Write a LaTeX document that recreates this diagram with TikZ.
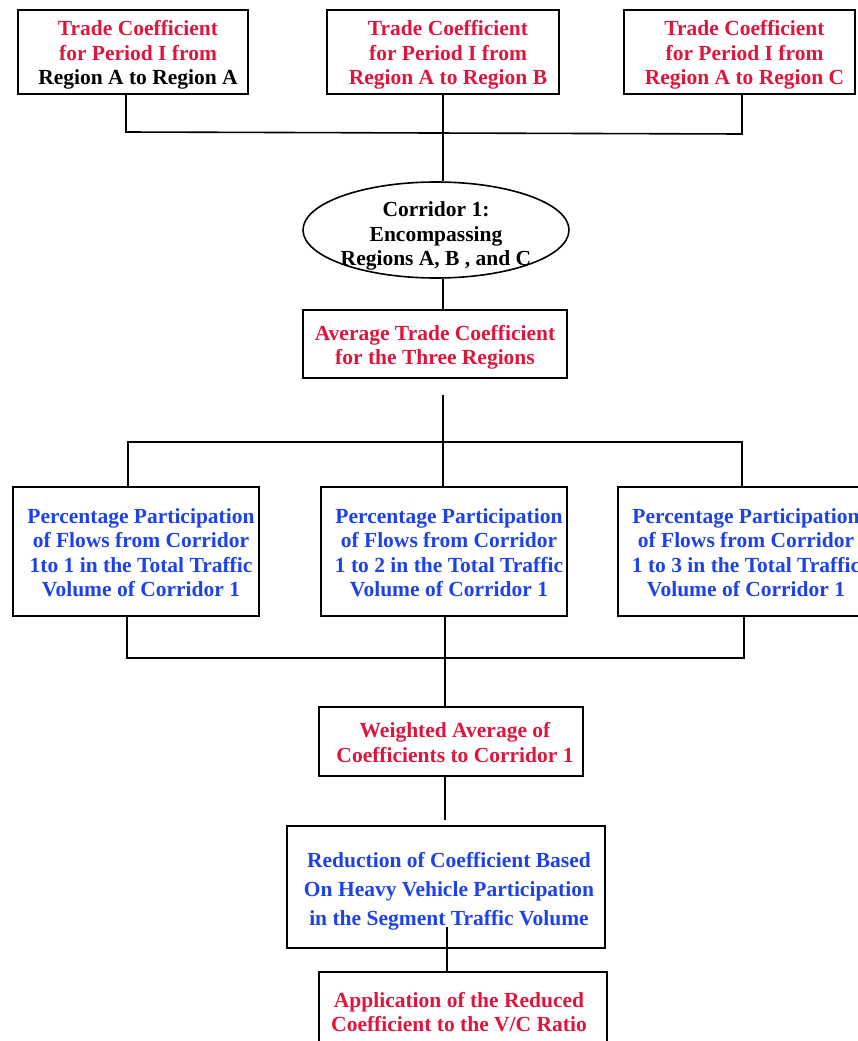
\documentclass[tikz,border=0pt]{standalone}
\usepackage{fontspec}
\setmainfont{Liberation Serif}
\usetikzlibrary{shapes.geometric,calc}
\definecolor{cred}{RGB}{222,22,62}
\definecolor{cblue}{RGB}{28,66,232}
\newcommand{\boxtext}[2]{\raisebox{-3.5pt}[\height][\depth]{\begin{tabular}{@{\hspace{#1pt}}c@{}}#2\end{tabular}}}
\begin{document}
\begin{tikzpicture}[x=1pt,y=-1pt,
  box/.style={draw, line width=1.6pt, rectangle, inner sep=0pt, align=center,
    font=\fontsize{21.5}{24.5}\selectfont\bfseries},
  tall/.style={font=\fontsize{21.5}{29}\selectfont\bfseries},
  link/.style={line width=1.6pt}]
\useasboundingbox (0,0) rectangle (857,1041);
% top row
\node[box, minimum width=230, minimum height=84, text=cred] (b1) at (133,52)
  {\boxtext{10}{Trade Coefficient\\for Period I from\\\color{black}Region A to Region A}};
\node[box, minimum width=232, minimum height=84, text=cred] (b2) at (443,52)
  {\boxtext{10}{Trade Coefficient\\for Period I from\\Region A to Region B}};
\node[box, minimum width=231, minimum height=84, text=cred] (b3) at (739.5,52)
  {\boxtext{10}{Trade Coefficient\\for Period I from\\Region A to Region C}};
% ellipse
\node[draw, ellipse, line width=1.6pt, minimum width=266, minimum height=96, inner sep=0pt] (ell) at (436,230) {};
\node[align=center, inner sep=0pt, font=\fontsize{21.5}{24.5}\selectfont\bfseries] (elltext) at (436,233)
  {\boxtext{0}{Corridor 1:\\Encompassing\\Regions A, B , and C}};
% average
\node[box, minimum width=264, minimum height=68, text=cred] (avg) at (435,344)
  {\boxtext{0}{Average Trade Coefficient\\for the Three Regions}};
% percentage row
\node[box, minimum width=246, minimum height=129, text=cblue] (p1) at (136,551.5)
  {\boxtext{10}{Percentage Participation\\of Flows from Corridor\\1to 1 in the Total Traffic\\Volume of Corridor 1}};
\node[box, minimum width=246, minimum height=129, text=cblue] (p2) at (444,551.5)
  {\boxtext{10}{Percentage Participation\\of Flows from Corridor\\1 to 2 in the Total Traffic\\Volume of Corridor 1}};
\node[box, minimum width=246, minimum height=129, text=cblue] (p3) at (741,551.5)
  {\boxtext{10}{Percentage Participation\\of Flows from Corridor\\1 to 3 in the Total Traffic\\Volume of Corridor 1}};
% weighted
\node[box, minimum width=264, minimum height=69, text=cred] (w) at (451,741.5)
  {\boxtext{8}{Weighted Average of\\Coefficients to Corridor 1}};
% reduction
\node[box, tall, minimum width=318, minimum height=122, text=cblue] (red) at (446,887)
  {\boxtext{6}{Reduction of Coefficient Based\\On Heavy Vehicle Participation\\in the Segment Traffic Volume}};
% application
\node[box, minimum width=288, minimum height=78, text=cred] (app) at (463,1011)
  {\boxtext{-8}{Application of the Reduced\\Coefficient to the V/C Ratio}};
% connectors top
\coordinate (h1L) at (126,132);
\coordinate (h1R) at (742,134);
\draw[link] (b1.south -| h1L) -- (h1L) -- (h1R) -- (b3.south -| h1R);
\draw[link] (b2.south) -- (ell.north -| b2.south);
\draw[link] (ell.south -| b2.south) -- (avg.north -| b2.south);
% middle fan-out
\coordinate (s2) at (443,395);
\coordinate (h2L) at (128,442);
\coordinate (h2R) at (742,442);
\draw[link] (s2) -- (s2 |- h2L);
\draw[link] (p1.north -| h2L) -- (h2L) -- (h2R) -- (p3.north -| h2R);
\draw[link] (s2 |- h2L) -- (p2.north -| s2);
% fan-in
\coordinate (h3L) at (127,658);
\coordinate (h3R) at (744,658);
\coordinate (h3M) at (445,658);
\draw[link] (p1.south -| h3L) -- (h3L) -- (h3R) -- (p3.south -| h3R);
\draw[link] (p2.south -| h3M) -- (w.north -| h3M);
\coordinate (e4) at (445,820);
\draw[link] (w.south -| e4) -- (e4);
\coordinate (s5) at (447,927);
\draw[link] (s5) -- (app.north -| s5);
\end{tikzpicture}
\end{document}
